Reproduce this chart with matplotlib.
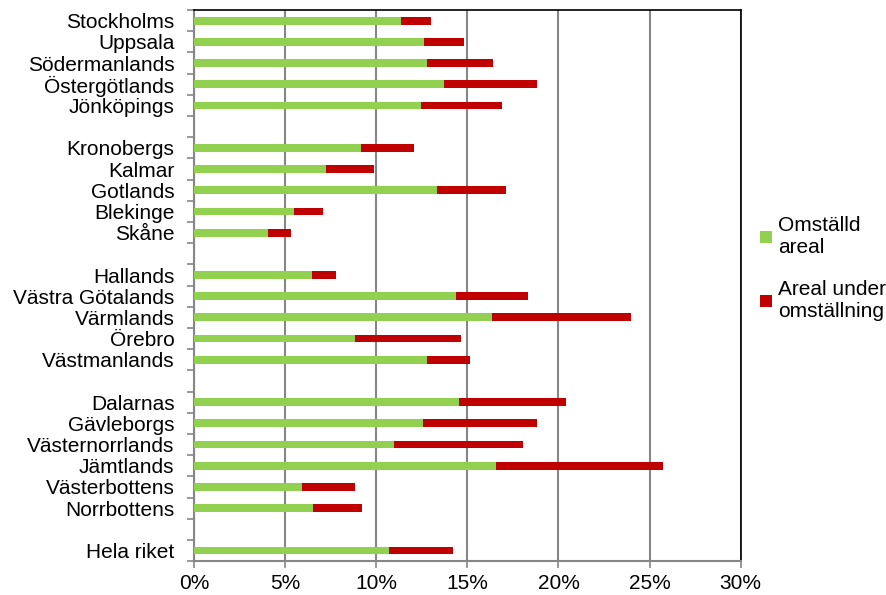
import numpy as np
import matplotlib.pyplot as plt
from matplotlib.ticker import FuncFormatter, MultipleLocator

plt.rcParams['font.family'] = ['Liberation Sans', 'DejaVu Sans']

# Counties in chart order, empty strings are the gaps between groups
lan = ['Stockholms', 'Uppsala', 'Södermanlands', 'Östergötlands', 'Jönköpings', '',
       'Kronobergs', 'Kalmar', 'Gotlands', 'Blekinge', 'Skåne', '',
       'Hallands', 'Västra Götalands', 'Värmlands', 'Örebro', 'Västmanlands', '',
       'Dalarnas', 'Gävleborgs', 'Västernorrlands', 'Jämtlands', 'Västerbottens', 'Norrbottens', '',
       'Hela riket']

# Percent of arable land (nan = gap)
omstalld = [11.35, 12.63, 12.77, 13.72, 12.48, np.nan,
            9.16, 7.24, 13.32, 5.51, 4.05, np.nan,
            6.50, 14.38, 16.37, 8.85, 12.81, np.nan,
            14.56, 12.57, 10.99, 16.55, 5.91, 6.55, np.nan,
            10.68]
under_omstallning = [1.68, 2.17, 3.62, 5.08, 4.44, np.nan,
                     2.90, 2.65, 3.82, 1.59, 1.28, np.nan,
                     1.31, 3.94, 7.59, 5.80, 2.35, np.nan,
                     5.88, 6.23, 7.04, 9.20, 2.92, 2.65, np.nan,
                     3.55]

green = '#92D050'
red = '#C00000'

fig = plt.figure(figsize=(8.86, 5.95), dpi=100)
ax = fig.add_axes([0.219, 0.057, 0.617, 0.926])

y = np.arange(len(lan))
g = np.array(omstalld)
r = np.array(under_omstallning)
ax.barh(y, g, height=0.37, color=green, label='Omställd\nareal', zorder=3)
ax.barh(y, r, left=g, height=0.37, color=red, label='Areal under\nomställning', zorder=3)

ax.set_xlim(0, 30)
ax.set_ylim(len(lan) - 0.5, -0.5)
ax.xaxis.set_major_locator(MultipleLocator(5))
ax.xaxis.set_major_formatter(FuncFormatter(lambda v, p: f'{v:.0f}%'))
ax.grid(axis='x', color='#868686', linewidth=1.5, zorder=0)

ax.set_yticks(y)
ax.set_yticklabels(lan)
ax.set_yticks(np.arange(-0.5, len(lan)), minor=True)
ax.tick_params(axis='y', which='major', length=0, labelsize=15, pad=14)
ax.tick_params(axis='y', which='minor', length=5, width=1.2, color='#868686')
ax.tick_params(axis='x', length=5, width=1.2, color='#868686', labelsize=15, pad=4)

for s in ['left', 'bottom']:
    ax.spines[s].set_color('#868686')
    ax.spines[s].set_linewidth(1.5)
for s in ['top', 'right']:
    ax.spines[s].set_color('black')
    ax.spines[s].set_linewidth(1.2)

fig.legend(loc='center left', bbox_to_anchor=(0.858, 0.548), frameon=False,
           fontsize=15, handlelength=0.55, handleheight=0.55, handletextpad=0.3,
           labelspacing=1.1, borderaxespad=0, borderpad=0)

fig.savefig('out.png', dpi=100)
